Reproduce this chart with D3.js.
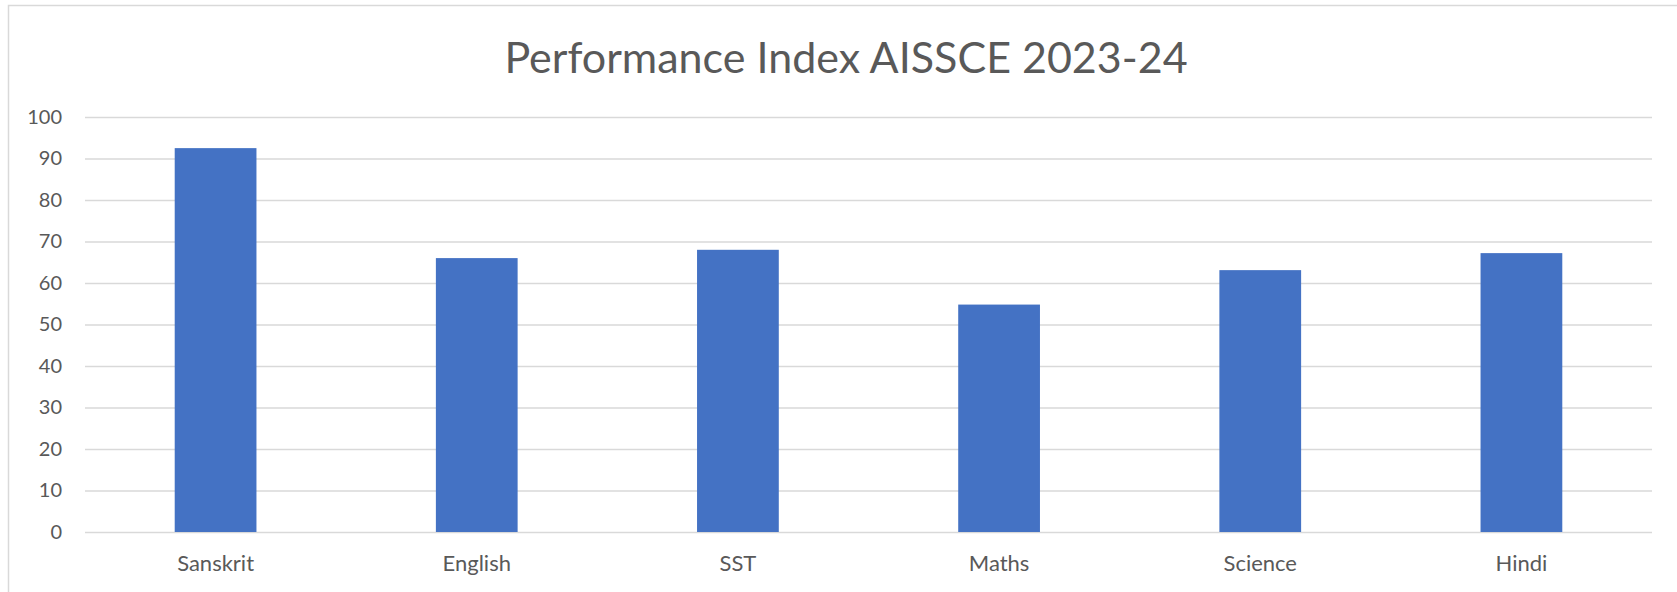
<!DOCTYPE html>
<html>
<head>
<meta charset="utf-8">
<script src="https://cdn.jsdelivr.net/npm/d3@7"></script>
<style>
  html, body { margin: 0; padding: 0; background: #fff; }
  svg { display: block; }
  text { font-family: Lato, "Noto Sans", sans-serif; fill: #595959; }
</style>
</head>
<body>
<svg id="chart"></svg>
<script>
// chart data
var subjects = ["Sanskrit", "English", "SST", "Maths", "Science", "Hindi"]
var scores = [92.5, 66.0, 68.0, 54.8, 63.1, 67.2]
var yTicks = [0, 10, 20, 30, 40, 50, 60, 70, 80, 90, 100]
var chartTitle = "Performance Index AISSCE 2023-24"

var width = 1677, height = 592
var margin = { left: 85, right: 25, top: 117, bottom: 60 }
var innerW = width - margin.left - margin.right
var innerH = height - margin.top - margin.bottom

var svg = d3.select('#chart')
    .attr('width', width)
    .attr('height', height)

// outer chart border (right/bottom run off the picture)
svg.append('rect')
    .attr('x', 8.5)
    .attr('y', 5.5)
    .attr('width', width)
    .attr('height', height)
    .attr('fill', 'none')
    .attr('stroke', '#d9d9d9')
    .attr('stroke-width', 1.5)

svg.append('text')
    .attr('x', 846)
    .attr('y', 73)
    .attr('text-anchor', 'middle')
    .style('font-size', '43px')
    .text(chartTitle)

var g = svg.append('g')
    .attr('transform', 'translate(' + margin.left + ',' + margin.top + ')')

var x = d3.scaleBand()
    .domain(subjects)
    .range([0, innerW])
    .paddingInner(0.687)
    .paddingOuter(0.3435)

var y = d3.scaleLinear()
    .domain([0, 100])
    .range([innerH, 0])

// gridlines
g.append('g')
    .attr('class', 'grid')
    .call(d3.axisLeft(y).tickValues(yTicks).tickSize(-innerW).tickFormat(''))
    .call(s => s.select('.domain').remove())
    .call(s => s.selectAll('line').attr('stroke', '#d9d9d9').attr('stroke-width', 1.5))

// y labels
g.append('g')
    .call(d3.axisLeft(y).tickValues(yTicks).tickSize(0).tickPadding(23))
    .call(s => s.select('.domain').remove())
    .call(s => s.selectAll('text').style('font-size', '20px').attr('fill', '#595959'))

// bars
g.selectAll('rect.bar')
    .data(subjects)
    .join('rect')
    .attr('class', 'bar')
    .attr('x', d => x(d))
    .attr('width', x.bandwidth())
    .attr('y', (d, i) => y(scores[i]))
    .attr('height', (d, i) => innerH - y(scores[i]))
    .attr('fill', '#4472c4')

// x labels
g.append('g')
    .attr('transform', 'translate(0,' + innerH + ')')
    .call(d3.axisBottom(x).tickSize(0).tickPadding(23))
    .call(s => s.select('.domain').remove())
    .call(s => s.selectAll('text').style('font-size', '22px').attr('fill', '#595959'))
</script>
</body>
</html>
